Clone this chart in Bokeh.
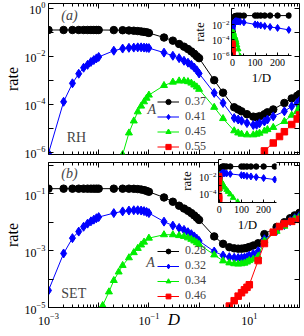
import numpy as np
from bokeh.plotting import figure
from bokeh.layouts import column
from bokeh.models import Range1d, FixedTicker, LogAxis, Legend, LegendItem, Label
from bokeh.embed import file_html
from bokeh.resources import INLINE

SERIF = "Liberation Serif"

# ---------------- data: panel (a) RH ----------------
A_a = ["0.37", "0.41", "0.45", "0.55"]
D_a = [0.001, 0.002, 0.003, 0.004, 0.005, 0.006, 0.007, 0.008, 0.009, 0.01,
       0.02, 0.03, 0.04, 0.05, 0.06, 0.07, 0.08, 0.09, 0.1,
       0.2, 0.3, 0.4, 0.5, 0.6, 0.7, 0.8, 0.9, 1.0,
       2, 3, 5, 6, 7, 9, 12, 14, 16, 20, 23, 30, 50, 70, 90, 100]
log_rate_a_037 = [-0.905, -0.905, -0.905, -0.905, -0.905, -0.905, -0.905, -0.905, -0.905, -0.905,
                  -0.91, -0.915, -0.925, -0.935, -0.95, -0.965, -0.985, -1.0, -1.03,
                  -1.22, -1.35, -1.49, -1.6, -1.7, -1.8, -1.9, -2.0, -2.08,
                  -3.0, -3.52, -4.13, -4.22, -4.3, -4.42, -4.52, -4.54, -4.5, -4.42, -4.34,
                  -4.22, -3.95, -3.76, -3.65, -3.58]
log_rate_a_041 = [-6.05, -3.9, -3.13, -2.73, -2.48, -2.36, -2.24, -2.16, -2.09, -2.03,
                  -1.77, -1.68, -1.65, -1.64, -1.63, -1.63, -1.64, -1.65, -1.66,
                  -1.85, -1.98, -2.08, -2.19, -2.27, -2.36, -2.47, -2.59, -2.72,
                  -3.53, -3.95, -4.58, -4.64, -4.69, -4.79, -4.87, -4.86, -4.8, -4.72, -4.64,
                  -4.51, -4.3, -4.09, -3.95, -3.86]
D_a_045 = [0.03, 0.04, 0.05, 0.06, 0.07, 0.08, 0.09, 0.1,
           0.2, 0.3, 0.4, 0.5, 0.6, 0.7, 0.8, 0.9, 1.0,
           2, 3, 5, 6, 7, 9, 12, 14, 16, 20, 23, 30, 50, 70, 90, 100]
log_rate_a_045 = [-6.1, -5.2, -4.7, -4.32, -4.08, -3.9, -3.75, -3.62,
                  -3.22, -3.08, -3.03, -3.03, -3.06, -3.12, -3.2, -3.28, -3.38,
                  -4.13, -4.6, -5.11, -5.2, -5.25, -5.28, -5.28, -5.25, -5.21, -5.12, -5.06,
                  -4.97, -4.72, -4.46, -4.3, -4.1]
D_a_055 = [10, 20, 30, 40, 50, 70, 90, 100]
log_rate_a_055 = [-6.6, -5.95, -5.62, -5.35, -5.15, -4.85, -4.62, -4.45]

# ---------------- data: panel (b) SET ----------------
A_b = ["0.28", "0.32", "0.34", "0.46"]
D_b = [0.001, 0.002, 0.003, 0.004, 0.005, 0.006, 0.007, 0.008, 0.009, 0.01,
       0.02, 0.03, 0.04, 0.05, 0.06, 0.07, 0.08, 0.09, 0.1,
       0.2, 0.3, 0.4, 0.5, 0.6, 0.7, 0.8, 0.9, 1.0,
       2, 3, 4, 5, 6, 7, 8, 9, 10, 12, 15, 20, 35, 50, 65, 80, 100]
log_rate_b_028 = [-0.82, -0.82, -0.82, -0.82, -0.82, -0.82, -0.82, -0.82, -0.82, -0.82,
                  -0.82, -0.82, -0.82, -0.825, -0.835, -0.85, -0.87, -0.9, -0.93,
                  -1.13, -1.28, -1.42, -1.52, -1.6, -1.68, -1.76, -1.84, -1.92,
                  -2.5, -2.76, -2.88, -2.92, -2.93, -2.93, -2.92, -2.9, -2.87, -2.82, -2.74,
                  -2.42, -2.17, -2.0, -1.86, -1.76, -1.67]
log_rate_b_032 = [-4.4, -3.1, -2.56, -2.33, -2.16, -2.05, -1.97, -1.91, -1.86, -1.82,
                  -1.68, -1.62, -1.59, -1.58, -1.58, -1.59, -1.61, -1.64, -1.68,
                  -1.98, -2.12, -2.2, -2.27, -2.35, -2.42, -2.5, -2.58, -2.66,
                  -3.03, -3.17, -3.23, -3.25, -3.26, -3.26, -3.25, -3.22, -3.18, -3.12, -3.02,
                  -2.6, -2.3, -2.1, -1.96, -1.86, -1.77]
D_b_034 = [0.012, 0.016, 0.02, 0.025, 0.03, 0.04, 0.05, 0.06, 0.07, 0.08, 0.1,
           0.2, 0.3, 0.4, 0.5, 0.6, 0.7, 0.8, 0.9, 1.0,
           2, 3, 4, 5, 6, 7, 8, 9, 10, 12, 15, 20, 35, 50, 65, 80, 100]
log_rate_b_034 = [-4.93, -4.45, -4.05, -3.75, -3.52, -3.25, -3.07, -2.92, -2.8, -2.7, -2.56,
                  -2.44, -2.44, -2.47, -2.5, -2.55, -2.6, -2.66, -2.72, -2.78,
                  -3.15, -3.36, -3.43, -3.46, -3.47, -3.46, -3.44, -3.4, -3.35, -3.3, -3.2,
                  -2.65, -2.32, -2.14, -1.98, -1.88, -1.81]
D_b_046 = [3, 4, 5, 6, 7, 8, 9, 10, 15, 20, 30, 40, 50, 70, 100]
log_rate_b_046 = [-5.4, -4.95, -4.76, -4.6, -4.48, -4.38, -4.29, -4.2, -3.35, -2.75,
                  -2.35, -2.15, -2.05, -1.97, -1.9]

# ---------------- styling ----------------
COLORS = ["#000000", "#0000ff", "#00ee00", "#ff0000"]
MARKERS = ["circle", "diamond", "triangle", "square"]
SIZES_MAIN = [7.5, 9, 7, 6.5]
SIZES_INSET = [5.5, 7, 5.5, 5]


def style_axis(ax, size="12px", show=True, tick_in=5, minor_in=3):
    ax.major_tick_in = tick_in
    ax.major_tick_out = 0
    ax.minor_tick_in = minor_in
    ax.minor_tick_out = 0
    ax.axis_line_color = "black"
    ax.major_tick_line_color = "black"
    ax.minor_tick_line_color = "black"
    ax.major_label_text_font = SERIF
    ax.major_label_text_color = "black"
    ax.major_label_text_font_size = size if show else "2px"
    ax.major_label_standoff = 3 if show else 0
    ax.axis_label_text_font = SERIF
    ax.axis_label_text_font_style = "normal"
    ax.axis_label_text_color = "black"


def blank_all(ax, ticks):
    ax.major_label_overrides = {t: "" for t in ticks}


def main_fig(y_lo, y_hi, height, b_top, b_bottom, y_exps, y_labeled, x_label=None):
    p = figure(width=304, height=height, x_axis_type="log", y_axis_type="log",
               x_range=Range1d(1e-3, 1e2), y_range=Range1d(y_lo, y_hi),
               output_backend="svg", toolbar_location=None,
               min_border_left=45, min_border_right=5, min_border_top=b_top,
               min_border_bottom=b_bottom)
    p.outline_line_color = "black"
    p.grid.visible = False
    p.background_fill_color = "white"
    x_major = [10.0 ** e for e in range(-3, 3)]
    x_minor = [m * 10.0 ** e for e in range(-3, 2) for m in range(2, 10)]
    y_major = [10.0 ** e for e in y_exps]
    xt = FixedTicker(ticks=x_major, minor_ticks=x_minor)
    yt = FixedTicker(ticks=y_major, minor_ticks=[])
    xa = p.below[0]
    ya = p.left[0]
    xa.ticker = xt
    ya.ticker = yt
    show_x = x_label is not None
    style_axis(xa, show=show_x)
    style_axis(ya)
    if show_x:
        xa.major_label_overrides = {10.0 ** e: "" for e in (-2, 0, 2)}
        xa.major_label_standoff = 5
        xa.axis_label = x_label
        xa.axis_label_text_font_style = "italic"
        xa.axis_label_text_font_size = "17px"
        xa.axis_label_standoff = -18
    else:
        blank_all(xa, x_major)
        xa.fixed_location = y_lo          # ticks only, takes no border space
    ya.major_label_overrides = {10.0 ** e: "" for e in y_exps if e not in y_labeled}
    ya.axis_label = "rate"
    ya.axis_label_text_font_size = "16px"
    ya.axis_label_standoff = 1
    top = LogAxis(ticker=xt, fixed_location=y_hi)
    style_axis(top, show=False)
    blank_all(top, x_major)
    right = LogAxis(ticker=yt, fixed_location=1e2)
    style_axis(right, show=False)
    blank_all(right, y_major)
    p.add_layout(top, "above")
    p.add_layout(right, "right")
    return p


def draw(p, D, logr, i, sizes):
    D = np.asarray(D, dtype=float)
    r = 10.0 ** np.asarray(logr, dtype=float)
    ln = p.line(D, r, line_color=COLORS[i], line_width=1)
    sc = p.scatter(D, r, marker=MARKERS[i], size=sizes[i],
                   fill_color=COLORS[i], line_color=COLORS[i])
    return ln, sc


def draw_inset(q, D, logr, i):
    D = np.asarray(D, dtype=float)
    r = 10.0 ** np.asarray(logr, dtype=float)
    keep = (1.0 / D) <= 250
    x = 1.0 / D[keep]
    q.line(x, r[keep], line_color=COLORS[i], line_width=1)
    q.scatter(x, r[keep], marker=MARKERS[i], size=SIZES_INSET[i],
              fill_color=COLORS[i], line_color=COLORS[i])


def make_legend(p, rends, labels, loc, row_h):
    items = [LegendItem(label=lab, renderers=list(rr)) for lab, rr in zip(labels, rends)]
    lg = Legend(items=items, location=loc, orientation="vertical",
                label_text_font=SERIF, label_text_font_size="12px",
                glyph_width=22, glyph_height=row_h, label_height=row_h,
                label_standoff=6, spacing=0, padding=0, margin=0,
                background_fill_alpha=0, border_line_alpha=0)
    p.add_layout(lg)


def inset_fig(x_lo, x_hi, y_lo, y_exps, y_labeled, w, h, left, top):
    q = figure(width=w, height=h, y_axis_type="log",
               x_range=Range1d(x_lo, x_hi), y_range=Range1d(y_lo, 1.0),
               output_backend="svg", toolbar_location=None,
               min_border_left=32, min_border_right=2, min_border_top=2,
               min_border_bottom=26)
    q.outline_line_color = None
    q.grid.visible = False
    q.background_fill_color = "white"
    q.border_fill_alpha = 0
    xa = q.below[0]
    ya = q.left[0]
    xa.ticker = FixedTicker(ticks=[0, 100, 200], minor_ticks=[50, 150, 250])
    ya.ticker = FixedTicker(ticks=[10.0 ** e for e in y_exps], minor_ticks=[])
    style_axis(xa, size="10px", tick_in=3, minor_in=2)
    style_axis(ya, size="10px", tick_in=3, minor_in=2)
    xa.major_label_standoff = 3
    ya.major_label_standoff = 2
    ya.major_label_overrides = {10.0 ** e: "" for e in y_exps if e not in y_labeled}
    ya.axis_label = "rate"
    ya.axis_label_text_font_size = "13px"
    ya.axis_label_standoff = 2
    xa.axis_label = "1/D"
    xa.axis_label_text_font_size = "13px"
    xa.axis_label_standoff = 1
    q.styles = {"position": "absolute", "left": f"{left}px", "top": f"{top}px"}
    return q


# ---------------- panel (a) ----------------
pa = main_fig(10 ** -6.1, 10 ** 0.2, 160, 3, 6, [-6, -5, -4, -3, -2, -1, 0], [-6, -4, -2, 0])
series_a = [(D_a, log_rate_a_037), (D_a, log_rate_a_041), (D_a_045, log_rate_a_045), (D_a_055, log_rate_a_055)]
rends_a = [draw(pa, D, lr, i, SIZES_MAIN) for i, (D, lr) in enumerate(series_a)]
make_legend(pa, rends_a, A_a, (109, 0), 13)
pa.add_layout(Label(x=0.0018, y=10 ** -0.30, text="(a)", text_font=SERIF, text_font_style="italic",
                    text_font_size="14px", text_baseline="middle"))
pa.add_layout(Label(x=0.0023, y=10 ** -5.39, text="RH", text_font=SERIF,
                    text_font_size="14px", text_baseline="middle"))
pa.add_layout(Label(x=0.094, y=10 ** -4.22, text="A", text_font=SERIF, text_font_style="italic",
                    text_font_size="14px", text_baseline="middle"))

# ---------------- panel (b) ----------------
pb = main_fig(1e-5, 10 ** 0.1, 176, 2, 29, [-5, -4, -3, -2, -1, 0], [-5, -3, -1], x_label="D")
series_b = [(D_b, log_rate_b_028), (D_b, log_rate_b_032), (D_b_034, log_rate_b_034), (D_b_046, log_rate_b_046)]
rends_b = [draw(pb, D, lr, i, SIZES_MAIN) for i, (D, lr) in enumerate(series_b)]
make_legend(pb, rends_b, A_b, (109, 4), 12)
pb.add_layout(Label(x=0.0018, y=10 ** -0.29, text="(b)", text_font=SERIF, text_font_style="italic",
                    text_font_size="14px", text_baseline="middle"))
pb.add_layout(Label(x=0.0018, y=10 ** -4.51, text="SET", text_font=SERIF,
                    text_font_size="14px", text_baseline="middle"))
pb.add_layout(Label(x=0.089, y=10 ** -3.42, text="A", text_font=SERIF, text_font_style="italic",
                    text_font_size="14px", text_baseline="middle"))

# ---------------- insets ----------------
ia = inset_fig(-5, 262, 1e-6, [-6, -5, -4, -3, -2, -1, 0], [-6, -4, -2], 104, 81, 189, 6)
for i, (D, lr) in enumerate(series_a):
    draw_inset(ia, D, lr, i)
ib = inset_fig(-3, 258, 1e-5, [-5, -4, -3, -2, -1, 0], [-4, -2], 102, 77, 176, 157)
for i, (D, lr) in enumerate(series_b):
    draw_inset(ib, D, lr, i)

layout = column(pa, pb, spacing=0)
roots = [layout, ia, ib]
open("out.html", "w").write(file_html(roots, INLINE))
